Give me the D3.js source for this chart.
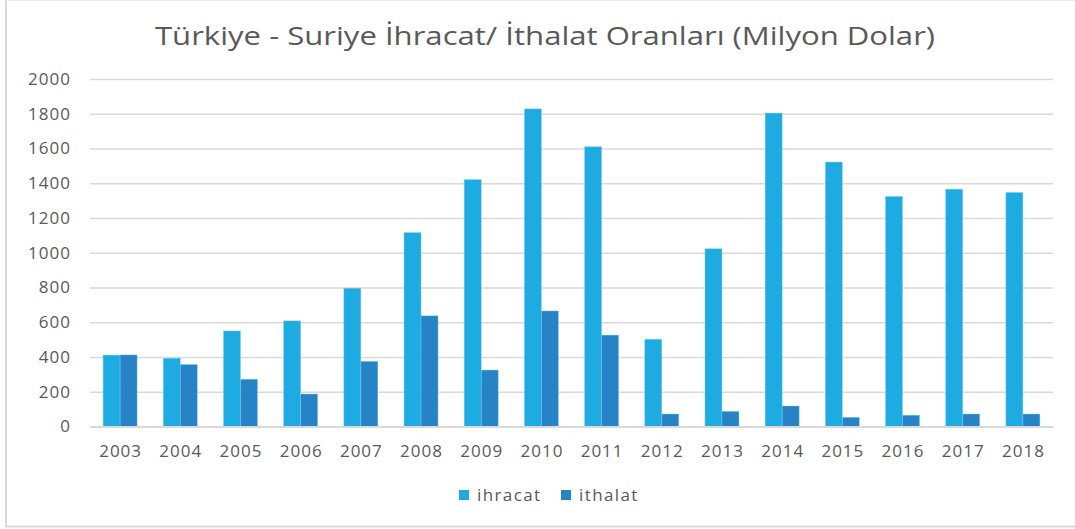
<!DOCTYPE html>
<html>
<head>
<meta charset="utf-8">
<script src="https://cdn.jsdelivr.net/npm/d3@7"></script>
<style>
  body { margin: 0; background: #fff; }
  text { font-family: "Open Sans", sans-serif; fill: #595959; }
</style>
</head>
<body>
<div id="chart"></div>
<script>
// data
var years = ["2003","2004","2005","2006","2007","2008","2009","2010","2011","2012","2013","2014","2015","2016","2017","2018"];
var ihracat = [411, 393, 550, 608, 796, 1116, 1421, 1828, 1610, 502, 1023, 1804, 1522, 1324, 1366, 1347];
var ithalat = [412, 357, 272, 187, 375, 637, 325, 665, 526, 72, 87, 118, 53, 65, 72, 72];
var series = ["ihracat", "ithalat"];
var colors = ["#1EABE2", "#2683C6"];
var yTicks = [0, 200, 400, 600, 800, 1000, 1200, 1400, 1600, 1800, 2000];

var W = 1075, H = 529;
var m = { left: 90, right: 22, top: 79, bottom: 102.5 };
var w = W - m.left - m.right, h = H - m.top - m.bottom;

var svg = d3.select("#chart").append("svg")
    .attr("width", W).attr("height", H);

// frame of the cropped chart area
svg.append("line").attr("x1", 6).attr("x2", 6).attr("y1", 0).attr("y2", 527)
    .attr("stroke", "#d9d9d9").attr("stroke-width", 2);
svg.append("line").attr("x1", 5).attr("x2", W).attr("y1", 526.5).attr("y2", 526.5)
    .attr("stroke", "#d9d9d9").attr("stroke-width", 2);
svg.append("line").attr("x1", 6).attr("x2", W).attr("y1", 0.5).attr("y2", 0.5)
    .attr("stroke", "#eeeeee").attr("stroke-width", 1);

svg.append("text")
    .attr("x", 545).attr("y", 45)
    .attr("text-anchor", "middle")
    .attr("font-size", 25)
    .attr("textLength", 780).attr("lengthAdjust", "spacingAndGlyphs")
    .text("Türkiye - Suriye İhracat/ İthalat Oranları (Milyon Dolar)");

var g = svg.append("g").attr("transform", `translate(${m.left},${m.top})`);

var x = d3.scaleBand().domain(years).range([0, w]).padding(0);
var x2 = d3.scaleBand().domain(series).range([0, x.bandwidth()]).paddingInner(0).paddingOuter(0.77);
var y = d3.scaleLinear().domain([0, 2000]).range([h, 0]);

var yAxis = d3.axisLeft(y).tickValues(yTicks).tickFormat(d3.format("d")).tickSize(-w).tickPadding(19);
var yg = g.append("g").attr("class", "_y").call(yAxis);
yg.select(".domain").remove();
yg.selectAll(".tick line").attr("stroke", "#d9d9d9").attr("stroke-width", 1.5);
yg.selectAll(".tick text").attr("font-size", 17).attr("fill", "#595959")
    .style("font-family", "'Open Sans', sans-serif").style("letter-spacing", "1px");

var rows = years.map((d, i) => ({ year: d, ihracat: ihracat[i], ithalat: ithalat[i] }));

g.selectAll("g.attr")
    .data(rows)
    .enter().append("g")
    .attr("class", "attr")
    .attr("transform", d => `translate(${x(d.year)},0)`)
    .selectAll("rect")
    .data(d => series.map(key => ({ key, value: d[key] })))
    .enter().append("rect")
    .attr("x", d => x2(d.key))
    .attr("y", d => y(d.value))
    .attr("width", x2.bandwidth())
    .attr("height", d => h - y(d.value))
    .attr("fill", d => colors[series.indexOf(d.key)])
    .attr("stroke", "#7fd0f0").attr("stroke-width", 0.6).attr("stroke-opacity", 0.7);

var xAxis = d3.axisBottom(x).tickSize(0).tickPadding(18);
var xg = g.append("g").attr("class", "_x").attr("transform", `translate(0,${h})`).call(xAxis);
xg.select(".domain").attr("stroke", "#d9d9d9").attr("stroke-width", 2);
xg.selectAll(".tick text").attr("font-size", 17).attr("fill", "#595959")
    .style("font-family", "'Open Sans', sans-serif").style("letter-spacing", "1px")
    .attr("dx", "0.5");

// legend
var legend = svg.append("g").attr("transform", "translate(459,490)");
var lx = [0, 102];
series.forEach(function (s, i) {
    var it = legend.append("g").attr("transform", `translate(${lx[i]},0)`);
    it.append("rect").attr("width", 10).attr("height", 10).attr("fill", colors[i]);
    it.append("text").attr("x", 18).attr("y", 11).attr("font-size", 17)
        .style("letter-spacing", "1.4px").text(s);
});
</script>
</body>
</html>
